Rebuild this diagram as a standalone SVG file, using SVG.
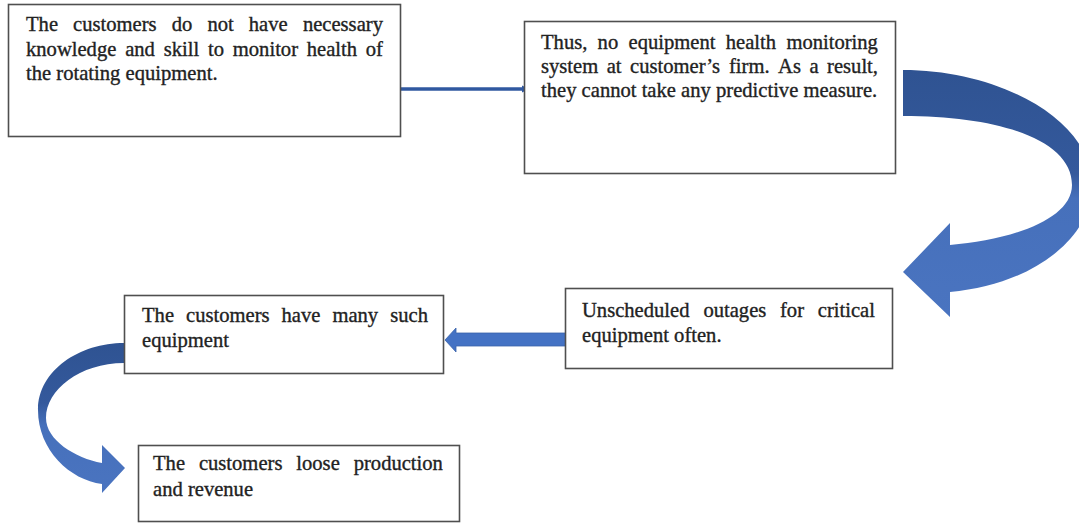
<svg xmlns="http://www.w3.org/2000/svg" width="1079" height="524" viewBox="0 0 1079 524">
  <style>
    .box { fill: #ffffff; stroke: #4f4f4f; stroke-width: 1.6; }
    .txt { font-family: "Liberation Serif", "Times New Roman", serif; font-size: 20.6px; fill: #222222; stroke: #222222; stroke-width: 0.35; }
    .link { fill: none; stroke: #3058a0; stroke-width: 3.6; }
    .block { fill: #4472c4; stroke: #3a62aa; stroke-width: 0.8; }
  </style>
  <defs>
    <linearGradient id="gradBig" x1="0" y1="70" x2="0" y2="317" gradientUnits="userSpaceOnUse">
      <stop offset="0" stop-color="#2f5392"/>
      <stop offset="0.42" stop-color="#34599c"/>
      <stop offset="0.52" stop-color="#4670bb"/>
      <stop offset="1" stop-color="#4a74c0"/>
    </linearGradient>
    <linearGradient id="gradSmall" x1="0" y1="343" x2="0" y2="493" gradientUnits="userSpaceOnUse">
      <stop offset="0" stop-color="#2f5392"/>
      <stop offset="0.4" stop-color="#34599c"/>
      <stop offset="0.55" stop-color="#4670bb"/>
      <stop offset="1" stop-color="#4a74c0"/>
    </linearGradient>
    <marker id="tip" viewBox="0 0 6 6" refX="5" refY="3" markerWidth="2" markerHeight="2" orient="auto">
      <path d="M0,0 L6,3 L0,6 Z" fill="#3058a0"/>
    </marker>
  </defs>

  <!-- connectors -->
  <g id="connectors">
    <line class="link" x1="401" y1="89" x2="528" y2="89" marker-end="url(#tip)"/>
    <path fill="url(#gradBig)" d="M903,70 C1000,70 1092,120 1092,185 C1092,240 1030,285 950,292 L950,317 L903,272 L950,223 L950,245 C1010,240 1072,220 1072,185 C1072,140 1000,116 903,116 Z"/>
    <path class="block" d="M567,333 L456,333 L456,328 L445,340 L456,352 L456,346 L567,346 Z"/>
    <path fill="url(#gradSmall)" d="M124,343 C80,343 38,370 38,410 C38,450 70,480 102,484 L102,493 L125,468 L102,445 L102,463 C75,458 46,440 46,418 C46,390 80,363 124,363 Z"/>
  </g>

  <g id="node-knowledge">
    <rect class="box" x="8.5" y="4.5" width="392" height="132"/>
    <text class="txt" y="31"><tspan x="26">The</tspan><tspan x="73.1">customers</tspan><tspan x="171.7">do</tspan><tspan x="207.4">not</tspan><tspan x="248.8">have</tspan><tspan x="302.9">necessary</tspan></text>
    <text class="txt" y="55.5"><tspan x="26">knowledge</tspan><tspan x="125.2">and</tspan><tspan x="163.7">skill</tspan><tspan x="208">to</tspan><tspan x="232.8">monitor</tspan><tspan x="306.8">health</tspan><tspan x="365.8">of</tspan></text>
    <text class="txt" x="26" y="80">the rotating equipment.</text>
  </g>

  <g id="node-monitoring">
    <rect class="box" x="524.5" y="21.5" width="371" height="152"/>
    <text class="txt" y="49"><tspan x="541">Thus,</tspan><tspan x="597.6">no</tspan><tspan x="628.5">equipment</tspan><tspan x="725.8">health</tspan><tspan x="786.4">monitoring</tspan></text>
    <text class="txt" y="73"><tspan x="541">system</tspan><tspan x="606.7">at</tspan><tspan x="630.1">customer’s</tspan><tspan x="729">firm.</tspan><tspan x="778.1">As</tspan><tspan x="809.5">a</tspan><tspan x="827.1">result,</tspan></text>
    <text class="txt" x="541" y="97">they cannot take any predictive measure.</text>
  </g>

  <g id="node-outages">
    <rect class="box" x="565.5" y="288.5" width="327" height="80"/>
    <text class="txt" y="317"><tspan x="582">Unscheduled</tspan><tspan x="703.4">outages</tspan><tspan x="780">for</tspan><tspan x="817.8">critical</tspan></text>
    <text class="txt" x="582" y="342">equipment often.</text>
  </g>

  <g id="node-many">
    <rect class="box" x="124.5" y="295.5" width="319" height="78"/>
    <text class="txt" y="322"><tspan x="142">The</tspan><tspan x="186">customers</tspan><tspan x="281.5">have</tspan><tspan x="332.4">many</tspan><tspan x="390.2">such</tspan></text>
    <text class="txt" x="142" y="347">equipment</text>
  </g>

  <g id="node-loss">
    <rect class="box" x="138.5" y="445.5" width="321" height="76"/>
    <text class="txt" y="470"><tspan x="153">The</tspan><tspan x="198.9">customers</tspan><tspan x="296.3">loose</tspan><tspan x="353.7">production</tspan></text>
    <text class="txt" x="153" y="496">and revenue</text>
  </g>
</svg>
